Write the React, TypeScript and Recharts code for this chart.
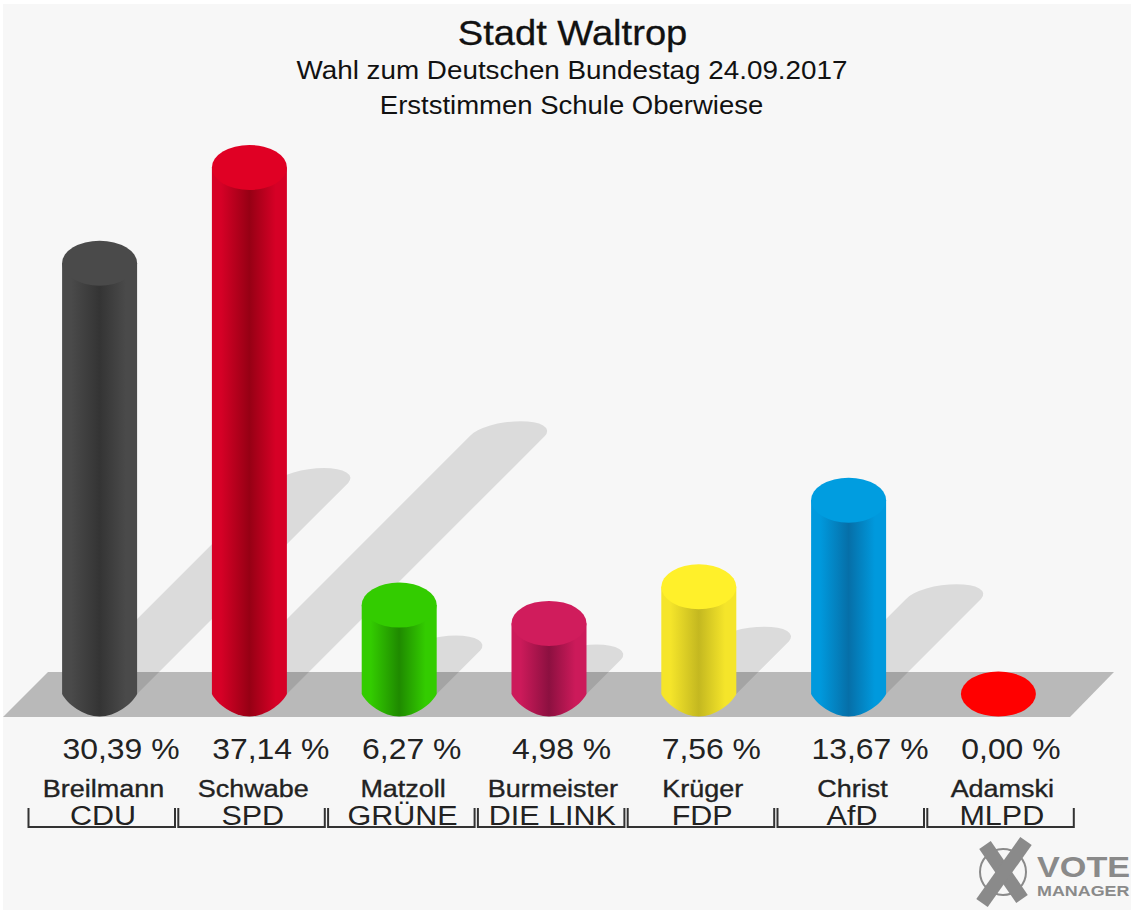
import { Bar, BarChart, XAxis, YAxis } from "recharts";

const candidates = ["Breilmann", "Schwabe", "Matzoll", "Burmeister", "Krüger", "Christ", "Adamski"];
const parties = ["CDU", "SPD", "GRÜNE", "DIE LINK", "FDP", "AfD", "MLPD"];
const shares = [30.39, 37.14, 6.27, 4.98, 7.56, 13.67, 0.0];
const shareLabels = ["30,39 %", "37,14 %", "6,27 %", "4,98 %", "7,56 %", "13,67 %", "0,00 %"];

const capColors = ["#4a4a4a", "#e00024", "#33cc00", "#d01c5c", "#fff02a", "#009de0", "#ff0000"];
const edgeColors = ["#4a4a4a", "#d60026", "#33cc00", "#cc1a5a", "#f5e52a", "#0099dd", "#ff0000"];
const coreColors = ["#343434", "#960014", "#1f8a00", "#8c1040", "#c4b820", "#066fa8", "#ff0000"];

const data = candidates.map((name, i) => ({ name, party: parties[i], share: shares[i] }));

const FONT = "'Liberation Sans', Arial, sans-serif";
const RY = 22.5;
const STRETCH = 1.1;

// the reference's lettering is a little wider than the font, so scale it sideways
function Wide({ x, y, size, anchor = "start", stretch = STRETCH, heavy = 0, children }: any) {
  return (
    <text
      transform={`translate(${x} ${y}) scale(${stretch} 1)`}
      fontSize={size}
      textAnchor={anchor}
      stroke={heavy ? "currentColor" : undefined}
      strokeWidth={heavy || undefined}
    >
      {children}
    </text>
  );
}

function Cylinder(props: any) {
  const { x, y, width, height, index } = props;
  const rx = width / 2;
  const cx = x + rx;
  const base = y + height;
  const t = height * 0.49;
  const right = x + width;
  const shadow = `M${x} ${base} L${x + t} ${base - t} A${rx} 13 -8 0 1 ${right + t} ${base - t} L${right} ${base} Z`;
  const body =
    `M${x} ${y} L${x} ${base} C${x + 5} ${base + 10} ${cx - 16} ${base + RY} ${cx} ${base + RY} ` +
    `C${cx + 16} ${base + RY} ${right - 5} ${base + 10} ${right} ${base} L${right} ${y} Z`;
  return (
    <g>
      <defs>
        <linearGradient id={`body-${index}`} x1="0" x2="1" y1="0" y2="0">
          <stop offset="0.12" stopColor={edgeColors[index]} />
          <stop offset="0.5" stopColor={coreColors[index]} />
          <stop offset="0.85" stopColor={edgeColors[index]} />
        </linearGradient>
      </defs>
      {height > 0 && <path d={shadow} fill="#000" fillOpacity={0.11} />}
      {height > 0 && <path d={body} fill={`url(#body-${index})`} />}
      <ellipse cx={cx} cy={y} rx={rx} ry={RY} fill={capColors[index]} />
    </g>
  );
}

function PartyTick(props: any) {
  const { x, index } = props;
  const left = x - 71.5;
  const right = x + 75;
  return (
    <g fontFamily={FONT} fill="#222" color="#222">
      <Wide x={x - 37.5} y={759} size={29}>
        {shareLabels[index]}
      </Wide>
      <Wide x={x + 3.5} y={797} size={24.5} anchor="middle" heavy={0.35}>
        {candidates[index]}
      </Wide>
      <Wide x={x + 3} y={825} size={28} anchor="middle" stretch={1.09}>
        {parties[index]}
      </Wide>
      <path d={`M${left} 808 V827 H${right} V808`} fill="none" stroke="#333" strokeWidth={2} />
    </g>
  );
}

function Backdrop() {
  return (
    <svg width={1131} height={910} style={{ position: "absolute", left: 0, top: 0 }}>
      <rect x={3} y={4} width={1128} height={906} fill="#f7f7f7" />
      <polygon points="3,717 48,672 1114,672 1070,717" fill="#b9b9b9" />
      <g fontFamily={FONT} fill="#111" color="#111">
        <Wide x={572.5} y={45} size={35} anchor="middle" stretch={1.09} heavy={0.3}>
          Stadt Waltrop
        </Wide>
        <Wide x={572} y={79} size={25} anchor="middle" stretch={1.113}>
          Wahl zum Deutschen Bundestag 24.09.2017
        </Wide>
        <Wide x={571.5} y={114} size={25} anchor="middle">
          Erststimmen Schule Oberwiese
        </Wide>
      </g>
      <g fill="none" stroke="#8a8a8a">
        <circle cx={1003} cy={872} r={23} strokeWidth={2} />
        <path d="M985 845 L1022 899" strokeWidth={14} />
        <path d="M1026 841 L982 903" strokeWidth={14} />
      </g>
      <g fontFamily={FONT} fill="#8a8a8a" fontWeight="bold">
        <Wide x={1037} y={877} size={29} stretch={1.18}>
          VOTE
        </Wide>
        <Wide x={1037} y={896} size={14} stretch={1.28}>
          MANAGER
        </Wide>
      </g>
    </svg>
  );
}

export default function App() {
  return (
    <div style={{ position: "absolute", left: 0, top: 0, width: 1131, height: 910, background: "#fff" }}>
      <Backdrop />
      <div style={{ position: "absolute", left: 0, top: 0 }}>
        <BarChart
          width={1131}
          height={910}
          data={data}
          barSize={75}
          margin={{ top: 126.94, right: 57.3, bottom: 0, left: 25.1 }}
        >
          <XAxis
            dataKey="name"
            height={216}
            interval={0}
            axisLine={false}
            tickLine={false}
            tick={<PartyTick />}
          />
          <YAxis hide domain={[0, 40]} />
          <Bar dataKey="share" shape={<Cylinder />} isAnimationActive={false} />
        </BarChart>
      </div>
    </div>
  );
}
